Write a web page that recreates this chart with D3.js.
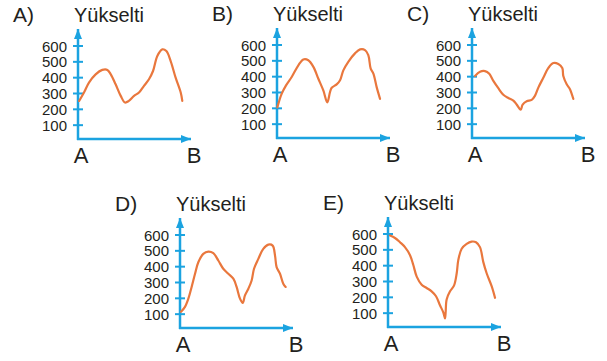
<!DOCTYPE html>
<html>
<head>
<meta charset="utf-8">
<script src="https://cdn.jsdelivr.net/npm/d3@7"></script>
<style>
  body { margin: 0; background: #fff; }
  text { font-family: "Liberation Sans", Arial, sans-serif; fill: #231f20; }
</style>
</head>
<body>
<div id="chart"></div>
<script>
let width = 607, height = 361;

// shared axis values
let yTicks = [100, 200, 300, 400, 500, 600]
let yTitle = "Yükselti"
let startLabel = "A", endLabel = "B"
let optionNames = ["A)", "B)", "C)", "D)", "E)"]

// profiles: distance (0-100 from A to B) and height
let distA = [1, 5.3, 9.7, 15.6, 21.5, 26, 29, 33.3, 37.8, 41.6, 45, 49.6, 54, 58.4, 62.8, 66.4, 70.2, 74.6, 78.2, 82, 86.4, 90.9, 92.3]
let elevA = [253, 306, 369, 421, 449, 449, 421, 358, 285, 243, 253, 285, 306, 348, 390, 442, 537, 579, 568, 505, 400, 306, 253]

let distB = [0.3, 4.1, 8, 13, 18.9, 23.3, 27.7, 32.2, 36.6, 41, 44.5, 46.9, 48.4, 52.8, 55.8, 58.7, 63.1, 69, 73.5, 77.9, 80.8, 82.9, 85.3, 88.2, 91.2]
let elevB = [206, 291, 345, 398, 472, 509, 504, 462, 387, 313, 238, 302, 330, 351, 377, 440, 494, 547, 572, 568, 536, 451, 419, 334, 260]

let distC = [2.7, 7.1, 11.5, 15.3, 18.9, 23.3, 27.7, 32.2, 36.6, 39.5, 43.1, 44.8, 48.4, 52.8, 55.8, 58.7, 63.1, 67.6, 72, 76.4, 79.9, 80.8, 83.8, 86.7, 89.7]
let elevC = [404, 431, 435, 418, 373, 327, 286, 265, 249, 224, 191, 224, 245, 253, 280, 331, 393, 455, 486, 480, 455, 404, 352, 321, 259]

let distD = [0.9, 4.4, 7.4, 10.3, 13.3, 16.2, 20.6, 25.1, 29.5, 33.9, 38.3, 42.8, 47.2, 50.1, 53.1, 55.5, 57.5, 60.5, 63.4, 65.5, 69.3, 73.7, 78.2, 82, 84.1, 85.5, 88.5, 91.4, 93.5]
let elevD = [115, 146, 198, 272, 355, 428, 481, 495, 485, 439, 387, 355, 324, 272, 198, 171, 219, 261, 313, 387, 449, 512, 539, 533, 470, 397, 355, 292, 272]

let distE = [1.8, 6.2, 10.6, 15, 19.5, 22.4, 25.4, 29.8, 34.2, 38.6, 42.5, 46, 49, 50.4, 51, 51.9, 54.9, 58.4, 60.8, 62.2, 65.2, 69.6, 74, 77.9, 81.4, 84.3, 87.3, 91.8, 94.7]
let elevE = [590, 575, 548, 517, 466, 404, 331, 280, 259, 238, 207, 150, 104, 67, 104, 187, 238, 274, 352, 435, 507, 538, 552, 548, 517, 424, 352, 269, 197]

let profiles = [
  {name: optionNames[0], dist: distA, elev: elevA, x: 78, y: 139},
  {name: optionNames[1], dist: distB, elev: elevB, x: 277, y: 138},
  {name: optionNames[2], dist: distC, elev: elevC, x: 472, y: 138},
  {name: optionNames[3], dist: distD, elev: elevD, x: 180, y: 328},
  {name: optionNames[4], dist: distE, elev: elevE, x: 388, y: 327}
]

let blue = "#1ba3e0", orange = "#e9773d"
let axisLen = 113, axisTall = 110

let svg = d3.select("#chart").append("svg")
    .attr("width", width)
    .attr("height", height)

// marker for arrow heads
svg.append("defs").append("marker")
    .attr("id", "arrow")
    .attr("viewBox", "0 0 10 8")
    .attr("refX", 10).attr("refY", 4)
    .attr("markerWidth", 10).attr("markerHeight", 8)
    .attr("markerUnits", "userSpaceOnUse")
    .attr("orient", "auto")
    .append("path")
    .attr("d", "M0,0 L10,4 L0,8 Z")
    .attr("fill", blue)

let xS = d3.scaleLinear().domain([0, 100]).range([0, axisLen])
let yS = d3.scaleLinear().domain([0, 600]).range([2, -93])

profiles.forEach(function (p) {
    let g = svg.append("g").attr("transform", "translate(" + p.x + "," + p.y + ")")

    // option letter and axis title
    g.append("text").attr("x", -65).attr("y", -117)
        .style("font-size", "21px").text(p.name)
    g.append("text").attr("x", -4).attr("y", -117)
        .style("font-size", "20px").text(yTitle)

    // y axis with arrow
    g.append("line").attr("x1", 0).attr("y1", 1).attr("x2", 0).attr("y2", -axisTall)
        .attr("stroke", blue).attr("stroke-width", 2.5)
        .attr("marker-end", "url(#arrow)")
    // x axis with arrow
    g.append("line").attr("x1", -1).attr("y1", 0).attr("x2", axisLen).attr("y2", 0)
        .attr("stroke", blue).attr("stroke-width", 2.5)
        .attr("marker-end", "url(#arrow)")

    // ticks
    g.selectAll(".tk").data(yTicks).enter().append("line")
        .attr("x1", -5).attr("x2", 5)
        .attr("y1", function (d) {return yS(d);})
        .attr("y2", function (d) {return yS(d);})
        .attr("stroke", blue).attr("stroke-width", 2)
    g.selectAll(".tl").data(yTicks).enter().append("text")
        .attr("x", -11)
        .attr("y", function (d) {return yS(d) + 5.5;})
        .attr("text-anchor", "end")
        .style("font-size", "15px")
        .text(function (d) {return d;})

    // A and B under the x axis
    g.append("text").attr("x", 3).attr("y", 24).attr("text-anchor", "middle")
        .style("font-size", "22px").text(startLabel)
    g.append("text").attr("x", 116).attr("y", 24).attr("text-anchor", "middle")
        .style("font-size", "22px").text(endLabel)

    // profile line
    let line = d3.line()
        .x(function (d) {return xS(d[0]);})
        .y(function (d) {return yS(d[1]);})
        .curve(d3.curveCatmullRom)
    g.append("path")
        .datum(d3.zip(p.dist, p.elev))
        .attr("d", line)
        .attr("fill", "none")
        .attr("stroke", orange)
        .attr("stroke-width", 2.2)
        .attr("stroke-linecap", "round")
})
</script>
</body>
</html>
